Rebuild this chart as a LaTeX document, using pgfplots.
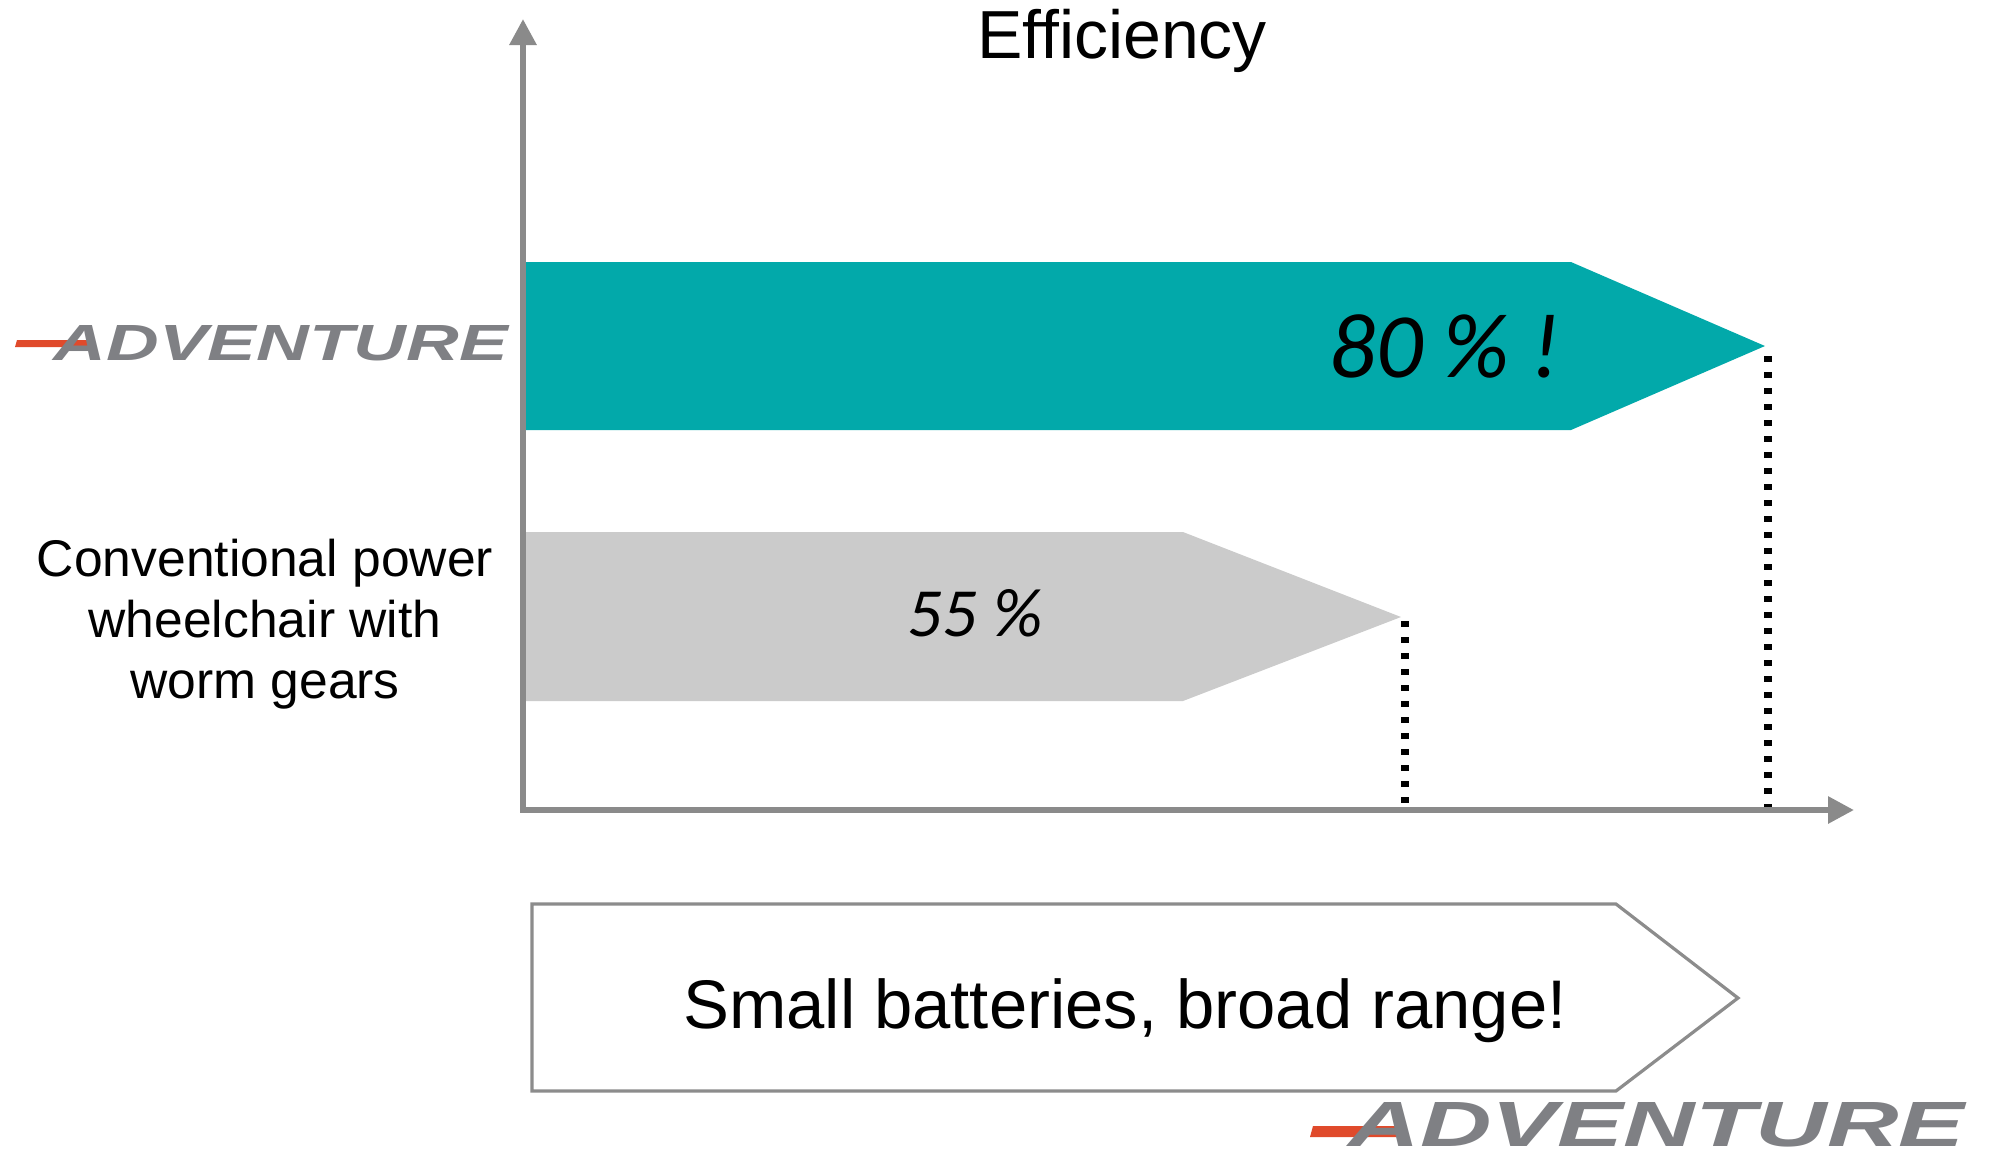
\documentclass[border=0pt]{standalone}
\usepackage{pgfplots}
\pgfplotsset{compat=1.18}
\usepackage{fontspec}
\setmainfont{Liberation Sans}
\newfontfamily\calfont{Carlito}
\newfontfamily\logofont{Liberation Sans Bold Italic}
\usetikzlibrary{arrows.meta}
\definecolor{teal1}{HTML}{02A9AA}
\definecolor{graybar}{HTML}{CBCBCB}
\definecolor{axisgray}{HTML}{8A8A8A}
\definecolor{logogray}{HTML}{7F8084}
\definecolor{logored}{HTML}{E04A2B}
\newcommand{\logo}[2]{\resizebox{#1}{#2}{\logofont ADVENTURE}}
\begin{document}
\begin{tikzpicture}
\useasboundingbox (0,0) rectangle (498.5pt,290pt);
\begin{axis}[at={(0,0)}, anchor=south west, scale only axis,
  width=498.5pt, height=290pt, xmin=0, xmax=1994, ymin=0, ymax=1160,
  y dir=reverse, hide axis, clip=false]
% bars (efficiency arrows), pixel coordinates
\addplot[fill=teal1, draw=none] coordinates {(526,262) (1571,262) (1765,346) (1571,430) (526,430)} -- cycle;
\addplot[fill=graybar, draw=none] coordinates {(526,532) (1183,532) (1401,617) (1183,701) (526,701)} -- cycle;
% dotted drop lines
\addplot[black, line width=1.9pt, dash pattern=on 1.6pt off 2.4pt] coordinates {(1405,621) (1405,812)};
\addplot[black, line width=1.9pt, dash pattern=on 1.6pt off 2.4pt] coordinates {(1768,356) (1768,810)};
% axes
\addplot[axisgray, line width=1.5pt, -{Triangle[length=6.5pt,width=6.5pt]}] coordinates {(523,812) (523,19)};
\addplot[axisgray, line width=1.5pt, -{Triangle[length=6.5pt,width=6.5pt]}] coordinates {(520,810) (1854,810)};
% bottom arrow box
\addplot[draw=gray!90, line width=0.8pt, fill=white] coordinates {(532,904) (1616,904) (1738,998) (1616,1091) (532,1091)} -- cycle;
% red bars of logos
\addplot[fill=logored, draw=none] coordinates {(17,340) (92,340) (90,347) (15,347)} -- cycle;
\addplot[fill=logored, draw=none] coordinates {(1313,1126) (1400,1126) (1397,1137) (1310,1137)} -- cycle;
% texts
\node[font=\fontsize{17pt}{20pt}\selectfont] at (axis cs:1122,41) {Efficiency};
\node[font=\fontsize{12.9pt}{15.25pt}\selectfont, align=center] at (axis cs:265,624) {Conventional power\\wheelchair with\\worm gears};
\node[font=\fontsize{17.2pt}{20pt}\selectfont] at (axis cs:1125,1011) {Small batteries, broad range!};
\node[font=\calfont\itshape\fontsize{23pt}{26pt}\selectfont] at (axis cs:1445,346) {80 \% !};
\node[font=\calfont\itshape\fontsize{17.25pt}{20pt}\selectfont] at (axis cs:975,613) {55 \%};
\node[anchor=base west, inner sep=0pt, text=logogray] at (axis cs:53,360) {\logo{113.5pt}{8.75pt}};
\node[anchor=base west, inner sep=0pt, text=logogray] at (axis cs:1348,1146) {\logo{154pt}{11pt}};
\end{axis}
\end{tikzpicture}
\end{document}
